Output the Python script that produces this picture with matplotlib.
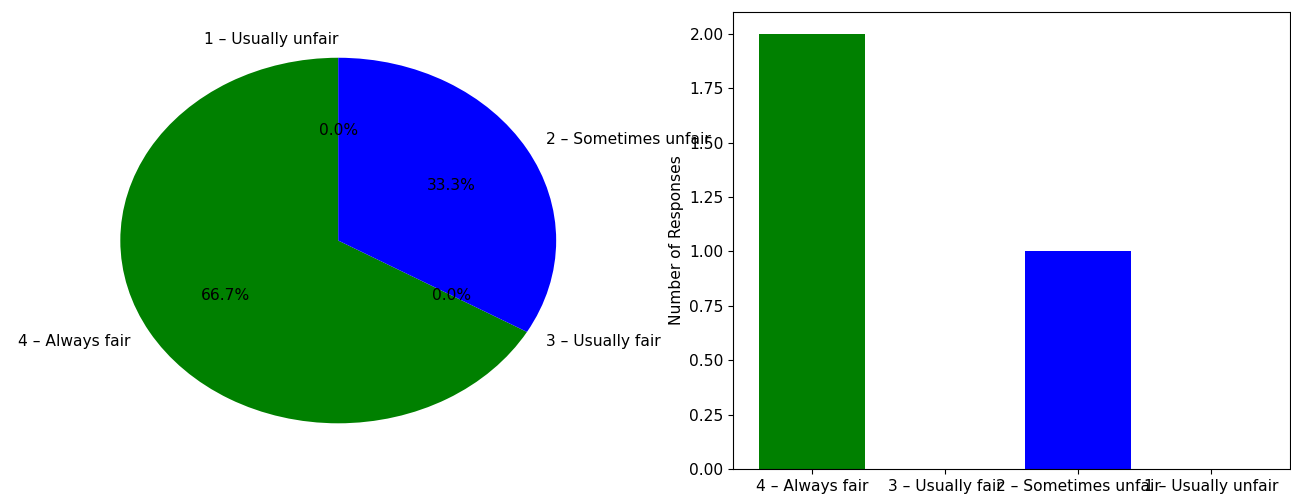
import matplotlib
matplotlib.use('Agg')
import matplotlib.pyplot as plt

# Survey responses (fairness rating)
categories = ['4 – Always fair', '3 – Usually fair', '2 – Sometimes unfair', '1 – Usually unfair']
counts = [2, 0, 1, 0]
colors = ['green', 'orange', 'blue', 'red']

plt.rcParams['font.size'] = 11.2

fig = plt.figure(figsize=(12.91, 4.94), dpi=100)

# Pie chart (stretched, not equal aspect)
ax1 = fig.add_axes([0.051, 0.0506, 0.422, 0.925])
wedges, texts, autotexts = ax1.pie(counts, labels=categories, colors=colors,
                                   autopct='%1.1f%%', startangle=90)
ax1.set_aspect('auto')
for t in texts:
    if t.get_text() == '1 – Usually unfair':
        t.set_ha('right')

# Bar chart
ax2 = fig.add_axes([0.568, 0.0506, 0.431, 0.925])
ax2.bar(categories, counts, color=colors)
ax2.set_ylabel('Number of Responses')

fig.savefig('out.png', dpi=100)
